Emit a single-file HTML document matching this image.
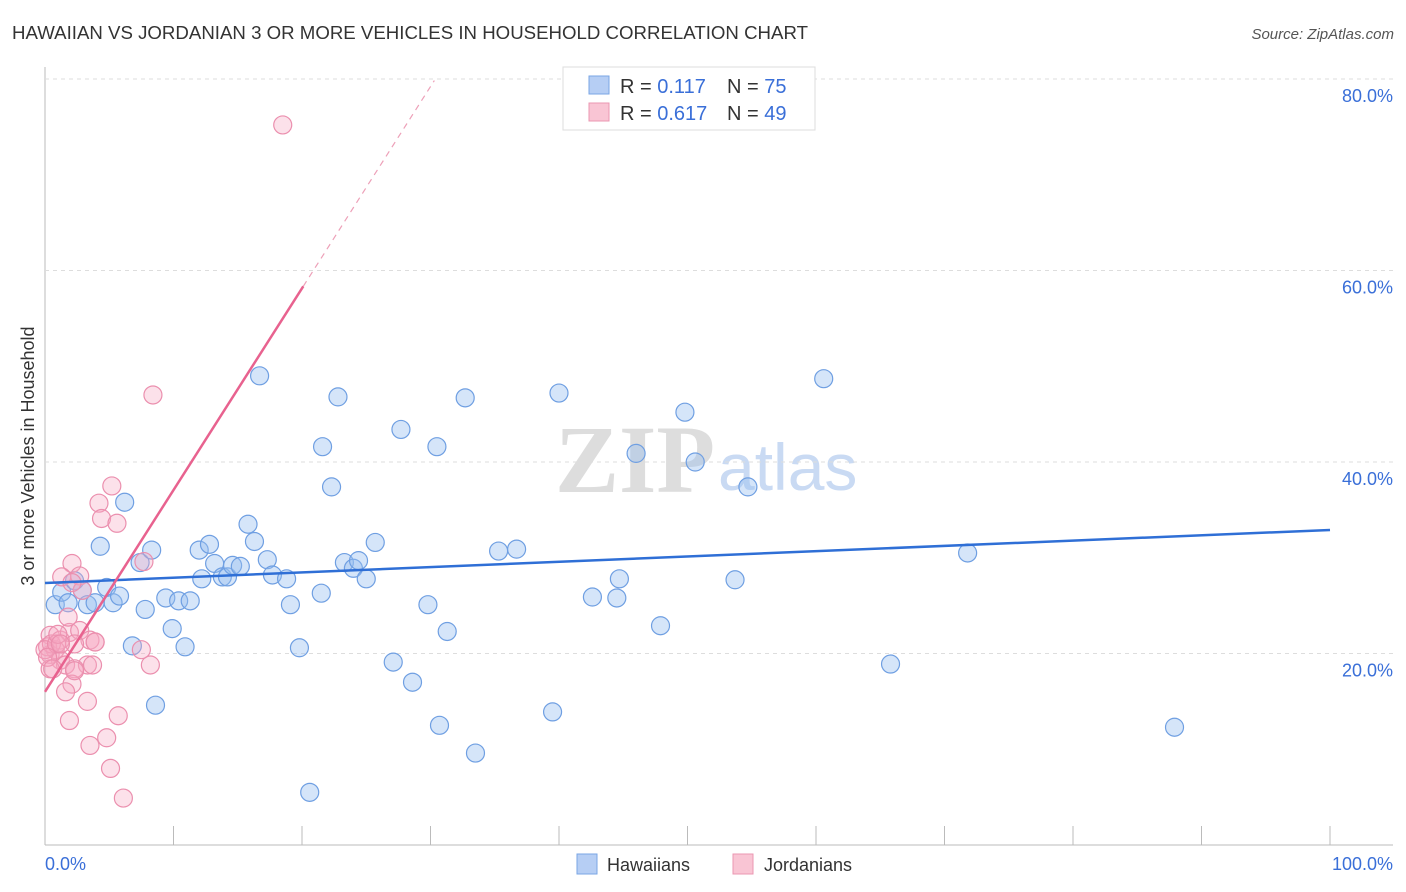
<!DOCTYPE html>
<html><head><meta charset="utf-8"><style>
body{margin:0;background:#fff;font-family:"Liberation Sans",sans-serif;}
#c{position:absolute;left:0;top:0;}
</style></head><body>
<svg id="c" width="1406" height="892" xmlns="http://www.w3.org/2000/svg">
<text x="12" y="39" font-size="18" fill="#333" textLength="796" lengthAdjust="spacingAndGlyphs">HAWAIIAN VS JORDANIAN 3 OR MORE VEHICLES IN HOUSEHOLD CORRELATION CHART</text>
<text x="1394" y="39" font-size="15" fill="#555" font-style="italic" text-anchor="end">Source: ZipAtlas.com</text>
<text x="34" y="456" font-size="18" fill="#333" text-anchor="middle" transform="rotate(-90 34 456)">3 or more Vehicles in Household</text>
<text x="555" y="492" font-size="96" fill="#ddd" font-family="Liberation Serif,serif" font-weight="bold">ZIP</text>
<text x="718" y="490" font-size="66" fill="#c9daf3">atlas</text>
<g id="grid"></g>
<g id="pts"></g>
<g id="lines"></g>
<rect x="563" y="67" width="252" height="63" fill="#fff" stroke="#ddd"/>
<rect x="589" y="76" width="20" height="18" fill="#b6cef4" stroke="#7aa6e4"/>
<rect x="589" y="103" width="20" height="18" fill="#f9c5d4" stroke="#eb97b2"/>
<text x="620" y="93" font-size="20" fill="#333">R = <tspan fill="#3a6fd8">0.117</tspan><tspan x="727">N = </tspan><tspan fill="#3a6fd8">75</tspan></text>
<text x="620" y="120" font-size="20" fill="#333">R = <tspan fill="#3a6fd8">0.617</tspan><tspan x="727">N = </tspan><tspan fill="#3a6fd8">49</tspan></text>
<text x="45" y="870" font-size="18" fill="#3a6fd8">0.0%</text>
<text x="1393" y="870" font-size="18" fill="#3a6fd8" text-anchor="end">100.0%</text>
<rect x="577" y="854" width="20" height="20" fill="#b6cef4" stroke="#7aa6e4"/>
<text x="607" y="871" font-size="18" fill="#333">Hawaiians</text>
<rect x="733" y="854" width="20" height="20" fill="#f9c5d4" stroke="#eb97b2"/>
<text x="764" y="871" font-size="18" fill="#333">Jordanians</text>
</svg>
<script>
const yTicks=[20,40,60,80];
const yTickLabels=["20.0%","40.0%","60.0%","80.0%"];
const xTicks=[0,10,20,30,40,50,60,70,80,90,100];
const hawX=[0.8,1.3,1.8,2.3,2.9,3.3,3.9,4.3,4.8,5.3,5.8,6.2,6.8,7.4,7.8,8.3,8.6,9.4,9.9,10.4,10.9,11.3,12,12.2,12.8,13.2,13.8,14.2,14.6,15.2,15.8,16.3,16.7,17.3,17.7,18.8,19.1,19.8,20.6,21.5,21.6,22.3,22.8,23.3,24,24.4,25,25.7,27.1,27.7,28.6,29.8,30.5,30.7,31.3,32.7,33.5,35.3,36.7,39.5,40,42.6,44.5,44.7,46,47.9,49.8,50.6,53.7,54.7,60.6,65.8,71.8,87.9];
const hawY=[25.1,26.4,25.3,27.6,26.6,25.1,25.3,31.2,26.9,25.3,26,35.8,20.8,29.5,24.6,30.8,14.6,25.8,22.6,25.5,20.7,25.5,30.8,27.8,31.4,29.4,28,28,29.2,29.1,33.5,31.7,49,29.8,28.2,27.8,25.1,20.6,5.5,26.3,41.6,37.4,46.8,29.5,28.9,29.7,27.8,31.6,19.1,43.4,17,25.1,41.6,12.5,22.3,46.7,9.6,30.7,30.9,13.9,47.2,25.9,25.8,27.8,40.9,22.9,45.2,40,27.7,37.4,48.7,18.9,30.5,12.3];
const jorX=[18.5,8.4,5.2,4.2,4.4,5.6,7.7,2.1,1.3,2.7,2.9,2.1,0.4,1.2,1.9,2.7,3.5,3.9,0.4,0.8,1.2,1.6,0.4,2.3,3.3,3.7,2.3,2.1,1.6,2.3,7.5,8.2,3.3,1.9,5.7,3.5,4.8,5.1,6.1,0.2,0.5,0,0.9,0.2,1,1.8,3.9,0.6,1.2];
const jorY=[75.2,47,37.5,35.7,34.1,33.6,29.6,29.4,28,28.1,26.6,27.4,21.9,21.4,22.2,22.4,21.4,21.2,19.9,20.4,19.3,18.8,18.4,21,18.8,18.8,18.4,16.8,16,18.2,20.4,18.8,15,13,13.5,10.4,11.2,8,4.9,20.7,21,20.4,21,19.6,22,23.8,21.2,18.4,21];
const hawTrend=[27.36,32.9];
const jorTrend=[16.0,2.107];
const X=v=>45+v*12.85, Y=v=>845-v*9.575;
const NS="http://www.w3.org/2000/svg";
function mk(t,a,p){const e=document.createElementNS(NS,t);for(const k in a)e.setAttribute(k,a[k]);p.appendChild(e);return e;}
const grid=document.getElementById('grid');
mk('line',{x1:45,y1:67,x2:45,y2:845,stroke:'#bbb'},grid);
mk('line',{x1:45,y1:845,x2:1393,y2:845,stroke:'#bbb'},grid);
yTicks.forEach((v,i)=>{
 const l=mk('line',{x1:45,y1:Y(v),x2:1393,y2:Y(v),stroke:'#ddd','stroke-dasharray':'4,4'},grid);
 
 
 const t=mk('text',{x:1393,y:Y(v)+23,'font-size':18,fill:'#3a6fd8','text-anchor':'end'},grid);
 t.textContent=yTickLabels[i];
 
 
});
xTicks.forEach(v=>{
 const l=mk('line',{x1:X(v),y1:826,x2:X(v),y2:845,stroke:'#bbb'},grid);
 
 
});
const pts=document.getElementById('pts');
hawX.forEach((x,i)=>{
 const c=mk('circle',{cx:X(x),cy:Y(hawY[i]),r:9,fill:'rgba(150,190,240,0.4)',stroke:'#6f9fe2','stroke-width':1.2},pts);
 
 
});
jorX.forEach((x,i)=>{
 const c=mk('circle',{cx:X(x),cy:Y(jorY[i]),r:9,fill:'rgba(245,170,195,0.35)',stroke:'#eb8fae','stroke-width':1.2},pts);
 
 
});
const lines=document.getElementById('lines');
const hl=mk('line',{x1:X(0),y1:Y(hawTrend[0]),x2:X(100),y2:Y(hawTrend[1]),stroke:'#2f6fd6','stroke-width':2.5},lines);


const jl=mk('line',{x1:X(0),y1:Y(jorTrend[0]),x2:X(20.1),y2:Y(jorTrend[0]+jorTrend[1]*20.1),stroke:'#e8628f','stroke-width':2.5},lines);


const jd=mk('line',{x1:X(20.1),y1:Y(jorTrend[0]+jorTrend[1]*20.1),x2:X(30.3),y2:Y(jorTrend[0]+jorTrend[1]*30.3),stroke:'#eda0b8','stroke-width':1.2,'stroke-dasharray':'6,5'},lines);


</script>
</body></html>
